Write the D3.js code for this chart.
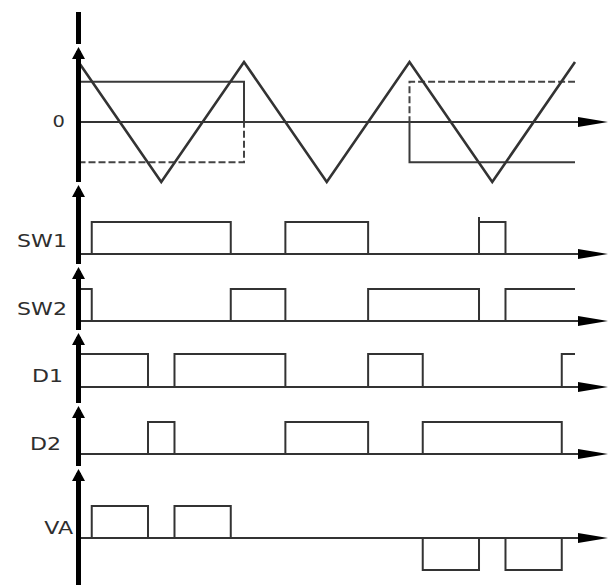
<!DOCTYPE html>
<html>
<head>
<meta charset="utf-8">
<script src="https://cdn.jsdelivr.net/npm/d3@7"></script>
<style>
    html, body { margin: 0; padding: 0; background: #fff; }
    svg { display: block; }
</style>
</head>
<body>
<div id="chart"></div>
<script>
// time is measured in half periods of the carrier (peak -> trough = 1)
const carrier = [[0, 1], [1, -1], [2, 1], [3, -1], [4, 1], [5, -1], [6, 1]]
const refSolid = [[0, 0.67], [2, 0], [4, -0.67], [6, -0.67]]
const refDashed = [[0, -0.67], [2, 0], [4, 0.67], [6, 0.67]]

// switching states as [time, level] steps
const sw1 = [[0, 0], [0.16, 1], [1.84, 0], [2.5, 1], [3.5, 0], [4.84, 1], [5.16, 0], [6, 0]]
const sw2 = [[0, 1], [0.16, 0], [1.84, 1], [2.5, 0], [3.5, 1], [4.84, 0], [5.16, 1], [6, 1]]
const d1 = [[0, 1], [0.84, 0], [1.16, 1], [2.5, 0], [3.5, 1], [4.16, 0], [5.84, 1], [6, 1]]
const d2 = [[0, 0], [0.84, 1], [1.16, 0], [2.5, 1], [3.5, 0], [4.16, 1], [5.84, 0], [6, 0]]
const va = [[0, 0], [0.16, 1], [0.84, 0], [1.16, 1], [1.84, 0], [4.16, -1], [4.84, 0], [5.16, -1], [5.84, 0], [6, 0]]

const labels = ["SW1", "SW2", "D1", "D2", "VA"]
const series = [sw1, sw2, d1, d2, va]

const width = 611
const height = 585
const axisX = 78.5
const ink = "#2e2e2e"

const svg = d3.select("#chart").append("svg")
    .attr("width", width)
    .attr("height", height)

const x = d3.scaleLinear().domain([0, 6]).range([axisX, 575])

// layout of the lower panels (pixels)
const panels = [
    { base: 254, high: 222, lx: 67, ly: 247 },
    { base: 321, high: 289, lx: 67, ly: 315 },
    { base: 387, high: 354, lx: 63, ly: 382 },
    { base: 454, high: 422, lx: 61, ly: 450 },
    { base: 538, high: 506, lx: 73, ly: 534 }
]
const arrowTips = [47, 185, 267, 333, 406, 469]

// ---- top panel: carrier + references
const yTop = d3.scaleLinear().domain([-1, 1]).range([182, 62])
const lineTop = d3.line().x(d => x(d[0])).y(d => yTop(d[1]))
const stepTop = d3.line().x(d => x(d[0])).y(d => yTop(d[1])).curve(d3.curveStepAfter)

const topPanel = svg.append("g")

hArrow(topPanel, yTop(0))

topPanel.append("path")
    .attr("d", stepTop(refDashed))
    .attr("fill", "none")
    .attr("stroke", "#444")
    .attr("stroke-width", 2)
    .attr("stroke-dasharray", "7,3")

topPanel.append("path")
    .attr("d", stepTop(refSolid))
    .attr("fill", "none")
    .attr("stroke", "#3a3a3a")
    .attr("stroke-width", 2)

topPanel.append("path")
    .attr("d", lineTop(carrier))
    .attr("fill", "none")
    .attr("stroke", "#333")
    .attr("stroke-width", 2.6)
    .attr("stroke-linejoin", "miter")

label(topPanel, "0", 65, 127, 15)

// ---- switching panels
series.forEach((s, i) => {
    const p = panels[i]
    const y = d3.scaleLinear().domain([0, 1]).range([p.base, p.high])
    const g = svg.append("g")

    hArrow(g, p.base)

    g.append("path")
        .attr("d", d3.line().x(d => x(d[0])).y(d => y(d[1])).curve(d3.curveStepAfter)(s))
        .attr("fill", "none")
        .attr("stroke", "#333")
        .attr("stroke-width", 2)

    label(g, labels[i], p.lx, p.ly, 17)
})

// small glitch on SW1 at the third turn-on
svg.append("line")
    .attr("x1", x(4.84)).attr("x2", x(4.84))
    .attr("y1", panels[0].high - 5).attr("y2", panels[0].high)
    .attr("stroke", "#333").attr("stroke-width", 2)

// ---- vertical axis, broken above each arrow
const segs = [[12, arrowTips[0] - 3]]
arrowTips.forEach((t, i) => {
    segs.push([t + 4, i < arrowTips.length - 1 ? arrowTips[i + 1] - 3 : height])
})
svg.append("g").selectAll("line")
    .data(segs)
    .enter().append("line")
    .attr("x1", axisX).attr("x2", axisX)
    .attr("y1", d => d[0]).attr("y2", d => d[1])
    .attr("stroke", "#000")
    .attr("stroke-width", 5)

svg.append("g").selectAll("path")
    .data(arrowTips)
    .enter().append("path")
    .attr("d", t => `M${axisX},${t} L${axisX + 6.5},${t + 12} L${axisX - 6.5},${t + 12} Z`)
    .attr("fill", "#000")

function hArrow(g, yPos) {
    g.append("line")
        .attr("x1", axisX).attr("x2", 585)
        .attr("y1", yPos).attr("y2", yPos)
        .attr("stroke", "#333")
        .attr("stroke-width", 1.8)
    g.append("path")
        .attr("d", `M578,${yPos - 5} L608,${yPos} L578,${yPos + 5} Z`)
        .attr("fill", "#000")
}

function label(g, txt, xr, yb, size) {
    g.append("text")
        .attr("transform", `translate(${xr},${yb}) scale(1.3,1)`)
        .attr("text-anchor", "end")
        .attr("font-family", "DejaVu Sans, Verdana, sans-serif")
        .attr("font-size", size)
        .attr("fill", ink)
        .text(txt)
}
</script>
</body>
</html>
